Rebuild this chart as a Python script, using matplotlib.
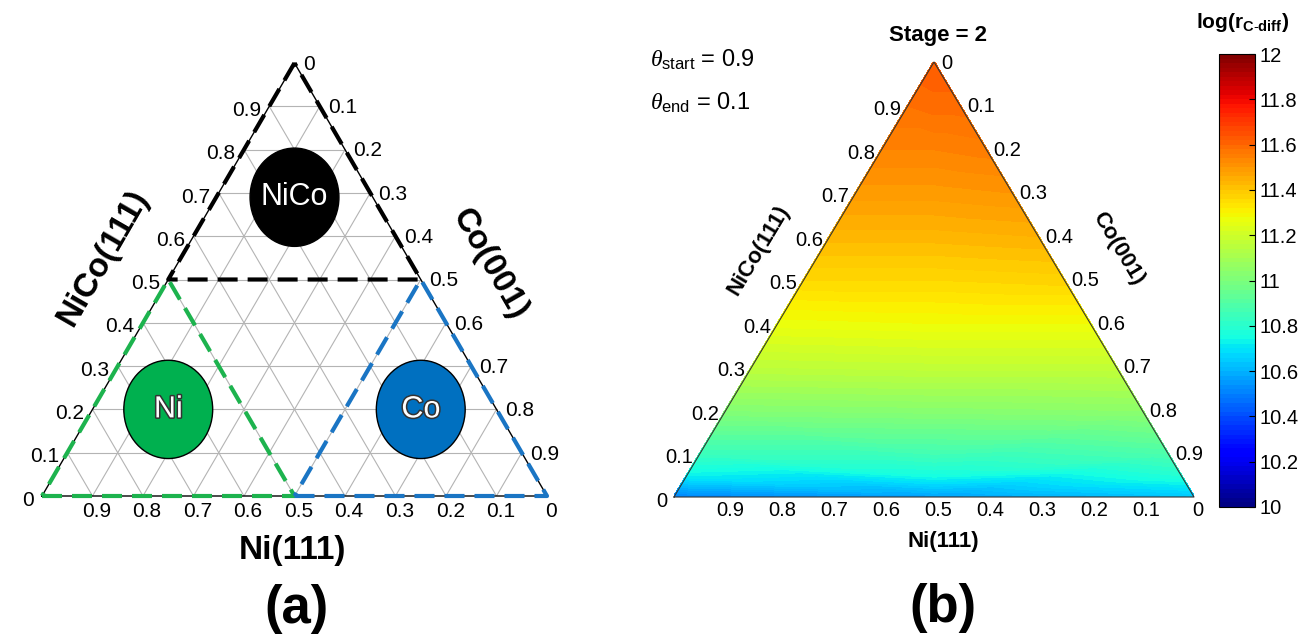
import numpy as np
import matplotlib
matplotlib.use('Agg')
import matplotlib.pyplot as plt
import matplotlib.tri as mtri
from matplotlib.patches import Ellipse
from matplotlib import patheffects, font_manager

# tick values on each ternary side
ticks = [0.0, 0.1, 0.2, 0.3, 0.4, 0.5, 0.6, 0.7, 0.8, 0.9]

# panel (a): phase markers, given as NiCo and Co fractions
phase_names = ['NiCo', 'Ni', 'Co']
phase_nico = [0.69, 0.20, 0.20]
phase_co = [0.155, 0.15, 0.65]
phase_colors = ['black', '#00b04f', '#0070c0']

# panel (a): dashed regions, corners as NiCo / Co fractions
region_nico = [[1.0, 0.5, 0.5], [0.0, 0.0, 0.5], [0.0, 0.0, 0.5]]
region_co = [[0.0, 0.0, 0.5], [0.0, 0.5, 0.0], [0.5, 1.0, 0.5]]
region_colors = ['black', '#1db34e', '#1a75c4']

# panel (b): log(r_C-diff) along the Ni side, the middle line and the Co side
nico_frac = [0.0, 0.05, 0.1, 0.2, 0.3, 0.4, 0.5, 0.6, 0.7, 0.8, 0.9, 1.0]
rate_ni_side = [10.50, 10.72, 10.84, 11.02, 11.16, 11.27, 11.36, 11.43, 11.49, 11.54, 11.58, 11.62]
rate_middle = [10.56, 10.75, 10.86, 11.03, 11.17, 11.28, 11.36, 11.43, 11.49, 11.54, 11.59, 11.62]
rate_co_side = [10.63, 10.78, 10.88, 11.04, 11.17, 11.28, 11.37, 11.44, 11.50, 11.55, 11.59, 11.62]
cbar_ticks = [10, 10.2, 10.4, 10.6, 10.8, 11, 11.2, 11.4, 11.6, 11.8, 12]

available = {f.name for f in font_manager.fontManager.ttflist}
narrow = 'Liberation Sans Narrow' if 'Liberation Sans Narrow' in available else 'Liberation Sans'

plt.rcParams['font.family'] = ['Liberation Sans', 'DejaVu Sans']
plt.rcParams['mathtext.fontset'] = 'custom'
plt.rcParams['mathtext.rm'] = narrow
plt.rcParams['mathtext.sf'] = narrow
plt.rcParams['mathtext.it'] = 'Liberation Serif:italic'
plt.rcParams['mathtext.bf'] = narrow + ':bold'


def to_xy(nico, co):
    nico = np.asarray(nico, dtype=float)
    co = np.asarray(co, dtype=float)
    return co + nico / 2, nico


def draw_labels(ax, size, family, pad):
    for v in ticks:
        s = f'{v:g}'
        ax.annotate(s, xy=to_xy(v, 0), xytext=(-pad, -3), textcoords='offset points',
                    ha='right', va='center', fontsize=size, family=family)
        ax.annotate(s, xy=to_xy(1 - v, v), xytext=(pad, -1), textcoords='offset points',
                    ha='left', va='center', fontsize=size, family=family)
        ax.annotate(s, xy=to_xy(0, 1 - v), xytext=(3, -pad + 2), textcoords='offset points',
                    ha='center', va='top', fontsize=size, family=family)


fig = plt.figure(figsize=(13.02, 6.34), dpi=100)
W, H = 1302, 634

# ---------- (a) phase map ----------
ax1 = fig.add_axes([42 / W, (H - 496) / H, 505 / W, 433 / H])
ax1.set_xlim(0, 1)
ax1.set_ylim(0, 1)
ax1.axis('off')

g = np.arange(0.1, 1.0, 0.1)
for t in g:
    x, y = to_xy([t, t], [0, 1 - t])
    ax1.plot(x, y, color='#b4b4b4', lw=0.8, zorder=1)
    x, y = to_xy([0, 1 - t], [t, t])
    ax1.plot(x, y, color='#b4b4b4', lw=0.8, zorder=1)
    x, y = to_xy([0, 1 - t], [1 - t, 0])
    ax1.plot(x, y, color='#b4b4b4', lw=0.8, zorder=1)

x, y = to_xy([0, 0, 1, 0], [0, 1, 0, 0])
ax1.plot(x, y, color='black', lw=1.0, zorder=2, clip_on=False)

for rn, rc, col in zip(region_nico, region_co, region_colors):
    x, y = to_xy(rn + rn[:1], rc + rc[:1])
    ax1.plot(x, y, color=col, lw=3.0, dashes=(4.8, 2.4), zorder=3, clip_on=False,
             solid_capstyle='butt', dash_capstyle='butt')

for name, pn, pc, col in zip(phase_names, phase_nico, phase_co, phase_colors):
    cx, cy = to_xy(pn, pc)
    ax1.add_patch(Ellipse((cx, cy), 0.176, 0.227, facecolor=col,
                          edgecolor='black', lw=1.0, zorder=4))
    t = ax1.text(cx, cy, name, ha='center', va='center', color='white',
                 fontsize=22, zorder=5)
    if name != 'NiCo':
        t.set_path_effects([patheffects.withStroke(linewidth=2.2, foreground='#333333')])

draw_labels(ax1, 15, 'Liberation Sans', 6)
ax1.text(0.122, 0.55, 'NiCo(111)', rotation=60, ha='center', va='center',
         fontsize=24, fontweight='bold')
ax1.text(0.886, 0.535, 'Co(001)', rotation=-60, ha='center', va='center',
         fontsize=24, fontweight='bold')
ax1.text(0.495, -0.125, 'Ni(111)', ha='center', va='center', fontsize=24, fontweight='bold')
ax1.text(0.503, -0.262, '(a)', ha='center', va='center', fontsize=38, fontweight='bold')

# ---------- (b) rate map ----------
ax2 = fig.add_axes([674 / W, (H - 497) / H, 520 / W, 435 / H])
ax2.set_xlim(0, 1)
ax2.set_ylim(0, 1)
ax2.axis('off')

px, py, pz = [], [], []
for c, zl, zm, zr in zip(nico_frac, rate_ni_side, rate_middle, rate_co_side):
    if c >= 1.0:
        x, y = to_xy(c, 0)
        px.append(x); py.append(y); pz.append(zm)
        continue
    for co, z in ((0.0, zl), ((1 - c) / 2, zm), (1 - c, zr)):
        x, y = to_xy(c, co)
        px.append(x); py.append(y); pz.append(z)

tri = mtri.Triangulation(px, py)
cs = ax2.tricontourf(tri, pz, levels=np.linspace(10, 12, 101), cmap='jet')
cs.set_edgecolor('face')

x, y = to_xy([0, 0, 1, 0], [0, 1, 0, 0])
ax2.plot(x, y, color='#333333', lw=0.8, clip_on=False)

draw_labels(ax2, 14.5, narrow, 5)
ax2.text(0.163, 0.568, 'NiCo(111)', rotation=59, ha='center', va='center',
         fontsize=16, fontweight='bold', family=narrow)
ax2.text(0.855, 0.572, 'Co(001)', rotation=-59, ha='center', va='center',
         fontsize=16, fontweight='bold', family=narrow)
ax2.text(0.517, -0.103, 'Ni(111)', ha='center', va='center', fontsize=16,
         fontweight='bold', family=narrow)
ax2.text(0.508, 1.062, 'Stage = 2', ha='center', va='center', fontsize=16,
         fontweight='bold', family=narrow)
ax2.text(0.517, -0.255, '(b)', ha='center', va='center', fontsize=38, fontweight='bold')
ax2.text(-0.046, 1.005, r'$\theta_{\mathsf{start}}$ = 0.9', ha='left', va='center',
         fontsize=17, family=narrow)
ax2.text(-0.046, 0.905, r'$\theta_{\mathsf{end}}$ = 0.1', ha='left', va='center',
         fontsize=17, family=narrow)

cax = fig.add_axes([1219 / W, (H - 507) / H, 36 / W, 453 / H])
cb = fig.colorbar(cs, cax=cax, ticks=cbar_ticks)
cb.ax.set_yticklabels([f'{t:g}' for t in cbar_ticks], family=narrow, fontsize=14.5)
cb.ax.tick_params(direction='in', length=4, width=0.8)
cb.outline.set_linewidth(0.8)
fig.text(1243 / W, 1 - 22 / H, r'log(r$_{\mathbf{C\text{-}diff}}$)', ha='center', va='center',
         fontsize=15, fontweight='bold', family=narrow)

fig.savefig('out.png', dpi=100, facecolor='white')
